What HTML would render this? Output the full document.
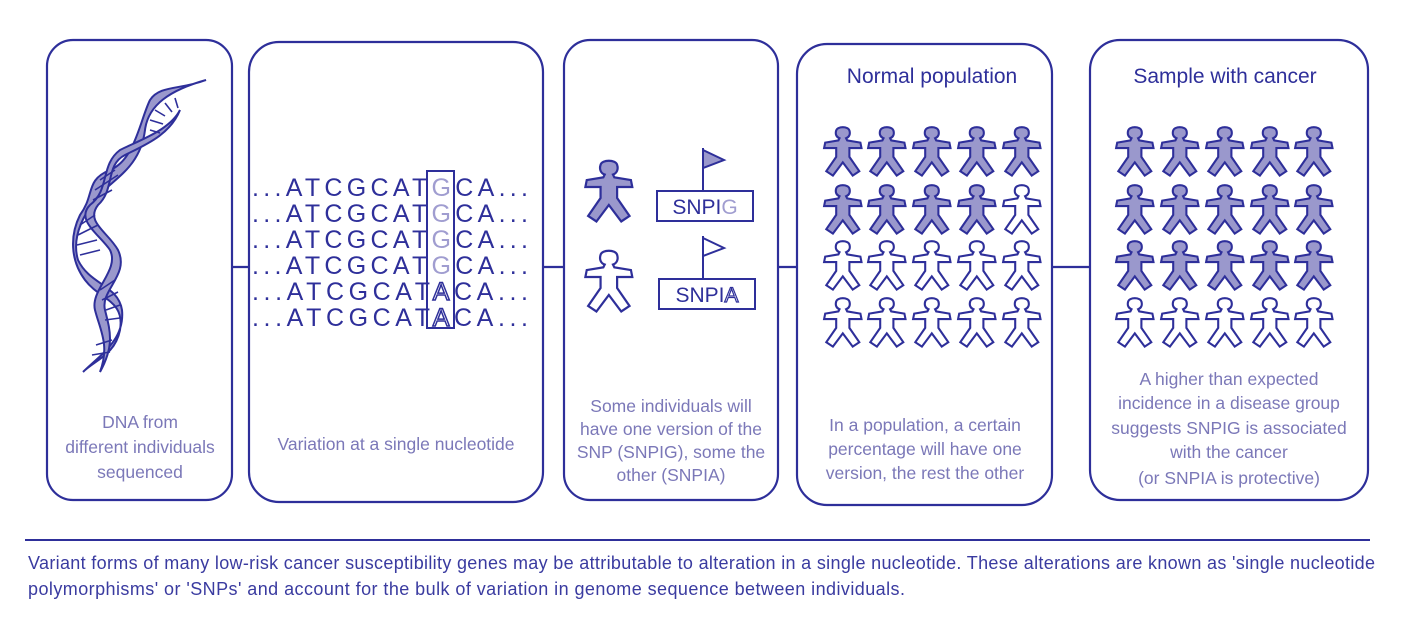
<!DOCTYPE html>
<html><head><meta charset="utf-8"><style>
html,body{margin:0;padding:0;background:#fff;}
svg{display:block;}
text{font-family:"Liberation Sans",sans-serif;}
</style></head><body>
<svg width="1428" height="638" viewBox="0 0 1428 638" xmlns="http://www.w3.org/2000/svg">
<defs>
<path id="p0" d="M15,12 C12,11 11,8 12,5 C13,1 23,1 24,5 C25,8 24,11 21,12 L22,14 L34,16 L35,21 L24,21 L24,29 L33,42 L27,46 L18,34 L9,46 L3,42 L12,29 L12,21 L1,21 L2,16 L14,14 Z"/>
<g id="pp"><use href="#p0" transform="scale(1.1)" stroke-width="1.9"/></g>
<g id="pb"><use href="#p0" transform="scale(1.38)" stroke-width="1.6"/></g>
</defs>
<g fill="none" stroke="#2e2f9a" stroke-width="2.2">
<rect x="47" y="40" width="185" height="460" rx="26"/>
<rect x="249" y="42" width="294" height="460" rx="30"/>
<rect x="564" y="40" width="214" height="460" rx="26"/>
<rect x="797" y="44" width="255" height="461" rx="30"/>
<rect x="1090" y="40" width="278" height="460" rx="30"/>
<line x1="232" y1="267" x2="249" y2="267"/>
<line x1="543" y1="267" x2="564" y2="267"/>
<line x1="778" y1="267" x2="797" y2="267"/>
<line x1="1052" y1="267" x2="1090" y2="267"/>
<line x1="25" y1="540" x2="1370" y2="540" stroke-width="2"/>
</g>
<!-- DNA -->
<g stroke="#2e2f9a" stroke-width="2" fill="#9a98cc">
<path d="M206,80 C180,90 160,85 150,100 C140,120 135,160 110,170 C85,180 95,195 80,215 C70,235 70,260 85,280 C100,300 125,300 120,330 C115,355 95,360 83,372 C100,355 125,340 122,310 C118,285 90,285 78,260 C72,240 80,220 95,200 C110,180 140,170 145,130 C148,105 170,90 206,80 Z"/>
<path d="M180,110 C170,130 140,140 120,150 C100,165 110,190 90,205 C75,220 100,235 110,250 C120,270 90,290 95,310 C100,330 110,345 100,372 C115,345 110,330 105,310 C100,290 130,275 118,250 C108,232 85,222 98,205 C115,190 105,165 125,155 C145,145 170,135 180,110 Z"/>
</g>
<g stroke="#2e2f9a" stroke-width="1.6">
<line x1="155" y1="110" x2="165" y2="116"/><line x1="150" y1="120" x2="163" y2="124"/><line x1="150" y1="130" x2="160" y2="133"/>
<line x1="165" y1="103" x2="172" y2="112"/><line x1="175" y1="98" x2="178" y2="108"/>
<line x1="100" y1="180" x2="115" y2="170"/><line x1="95" y1="190" x2="118" y2="175"/><line x1="93" y1="200" x2="112" y2="190"/>
<line x1="80" y1="225" x2="95" y2="215"/><line x1="78" y1="235" x2="98" y2="225"/><line x1="77" y1="245" x2="97" y2="240"/><line x1="80" y1="255" x2="100" y2="250"/>
<line x1="100" y1="290" x2="115" y2="280"/><line x1="102" y1="300" x2="118" y2="292"/><line x1="106" y1="310" x2="120" y2="305"/><line x1="105" y1="320" x2="120" y2="318"/>
<line x1="96" y1="345" x2="112" y2="340"/><line x1="92" y1="355" x2="110" y2="352"/>
</g>
<g fill="#7b78b8" font-size="17.5" text-anchor="middle">
<text x="140" y="428">DNA from</text>
<text x="140" y="453">different individuals</text>
<text x="140" y="478">sequenced</text>
<text x="396" y="450">Variation at a single nucleotide</text>
<text x="671" y="412">Some individuals will</text>
<text x="671" y="435">have one version of the</text>
<text x="671" y="458">SNP (SNPIG), some the</text>
<text x="671" y="481">other (SNPIA)</text>
<text x="925" y="431">In a population, a certain</text>
<text x="925" y="455">percentage will have one</text>
<text x="925" y="479">version, the rest the other</text>
<text x="1229" y="385">A higher than expected</text>
<text x="1229" y="409">incidence in a disease group</text>
<text x="1229" y="434">suggests SNPIG is associated</text>
<text x="1229" y="458">with the cancer</text>
<text x="1229" y="484">(or SNPIA is protective)</text>
</g>
<g fill="#2e2f9a" font-size="21" text-anchor="middle">
<text x="932" y="83">Normal population</text>
<text x="1225" y="83">Sample with cancer</text>
</g>
<!-- sequences -->
<g font-size="25" fill="#2e2f9a">
<text x="252" y="196" textLength="276">...ATCGCAT<tspan fill="#a09dd0">G</tspan>CA...</text>
<text x="252" y="222" textLength="276">...ATCGCAT<tspan fill="#a09dd0">G</tspan>CA...</text>
<text x="252" y="248" textLength="276">...ATCGCAT<tspan fill="#a09dd0">G</tspan>CA...</text>
<text x="252" y="274" textLength="276">...ATCGCAT<tspan fill="#a09dd0">G</tspan>CA...</text>
<text x="252" y="300" textLength="276">...ATCGCAT<tspan fill="#fff" stroke="#2e2f9a" stroke-width="1.5">A</tspan>CA...</text>
<text x="252" y="326" textLength="276">...ATCGCAT<tspan fill="#fff" stroke="#2e2f9a" stroke-width="1.5">A</tspan>CA...</text>
</g>
<rect x="427" y="171" width="27" height="157" fill="none" stroke="#2e2f9a" stroke-width="2"/>
<!-- panel 3 -->
<use href="#pb" x="584" y="158" fill="#9a98cc" stroke="#2e2f9a"/>
<use href="#pb" x="584" y="248" fill="#fff" stroke="#2e2f9a"/>
<g stroke="#2e2f9a" stroke-width="2">
<rect x="657" y="191" width="96" height="30" fill="#fff"/>
<line x1="703" y1="148" x2="703" y2="191"/><path d="M703,150 L724,160 L703,168 Z" fill="#9a98cc"/>
<rect x="659" y="279" width="96" height="30" fill="#fff"/>
<line x1="703" y1="236" x2="703" y2="279"/><path d="M703,238 L724,248 L703,256 Z" fill="#fff"/>
</g>
<g font-size="21" fill="#2e2f9a" text-anchor="middle">
<text x="705" y="214">SNPI<tspan fill="#a09dd0">G</tspan></text>
<text x="707" y="302">SNPI<tspan fill="#fff" stroke="#2e2f9a" stroke-width="1.2">A</tspan></text>
</g>
<!-- populations -->
<g stroke="#2e2f9a">
<use href="#pp" x="823" y="125" fill="#9a98cc"/><use href="#pp" x="867" y="125" fill="#9a98cc"/><use href="#pp" x="912" y="125" fill="#9a98cc"/><use href="#pp" x="957" y="125" fill="#9a98cc"/><use href="#pp" x="1002" y="125" fill="#9a98cc"/>
<use href="#pp" x="823" y="183" fill="#9a98cc"/><use href="#pp" x="867" y="183" fill="#9a98cc"/><use href="#pp" x="912" y="183" fill="#9a98cc"/><use href="#pp" x="957" y="183" fill="#9a98cc"/><use href="#pp" x="1002" y="183" fill="#fff"/>
<use href="#pp" x="823" y="239" fill="#fff"/><use href="#pp" x="867" y="239" fill="#fff"/><use href="#pp" x="912" y="239" fill="#fff"/><use href="#pp" x="957" y="239" fill="#fff"/><use href="#pp" x="1002" y="239" fill="#fff"/>
<use href="#pp" x="823" y="296" fill="#fff"/><use href="#pp" x="867" y="296" fill="#fff"/><use href="#pp" x="912" y="296" fill="#fff"/><use href="#pp" x="957" y="296" fill="#fff"/><use href="#pp" x="1002" y="296" fill="#fff"/>

<use href="#pp" x="1115" y="125" fill="#9a98cc"/><use href="#pp" x="1160" y="125" fill="#9a98cc"/><use href="#pp" x="1205" y="125" fill="#9a98cc"/><use href="#pp" x="1250" y="125" fill="#9a98cc"/><use href="#pp" x="1294" y="125" fill="#9a98cc"/>
<use href="#pp" x="1115" y="183" fill="#9a98cc"/><use href="#pp" x="1160" y="183" fill="#9a98cc"/><use href="#pp" x="1205" y="183" fill="#9a98cc"/><use href="#pp" x="1250" y="183" fill="#9a98cc"/><use href="#pp" x="1294" y="183" fill="#9a98cc"/>
<use href="#pp" x="1115" y="239" fill="#9a98cc"/><use href="#pp" x="1160" y="239" fill="#9a98cc"/><use href="#pp" x="1205" y="239" fill="#9a98cc"/><use href="#pp" x="1250" y="239" fill="#9a98cc"/><use href="#pp" x="1294" y="239" fill="#9a98cc"/>
<use href="#pp" x="1115" y="296" fill="#fff"/><use href="#pp" x="1160" y="296" fill="#fff"/><use href="#pp" x="1205" y="296" fill="#fff"/><use href="#pp" x="1250" y="296" fill="#fff"/><use href="#pp" x="1294" y="296" fill="#fff"/>
</g>
<g font-size="18" fill="#3a3ba0">
<text x="28" y="569" textLength="1347">Variant forms of many low-risk cancer susceptibility genes may be attributable to alteration in a single nucleotide. These alterations are known as 'single nucleotide</text>
<text x="28" y="595" textLength="877">polymorphisms' or 'SNPs' and account for the bulk of variation in genome sequence between individuals.</text>
</g>
</svg>
</body></html>
